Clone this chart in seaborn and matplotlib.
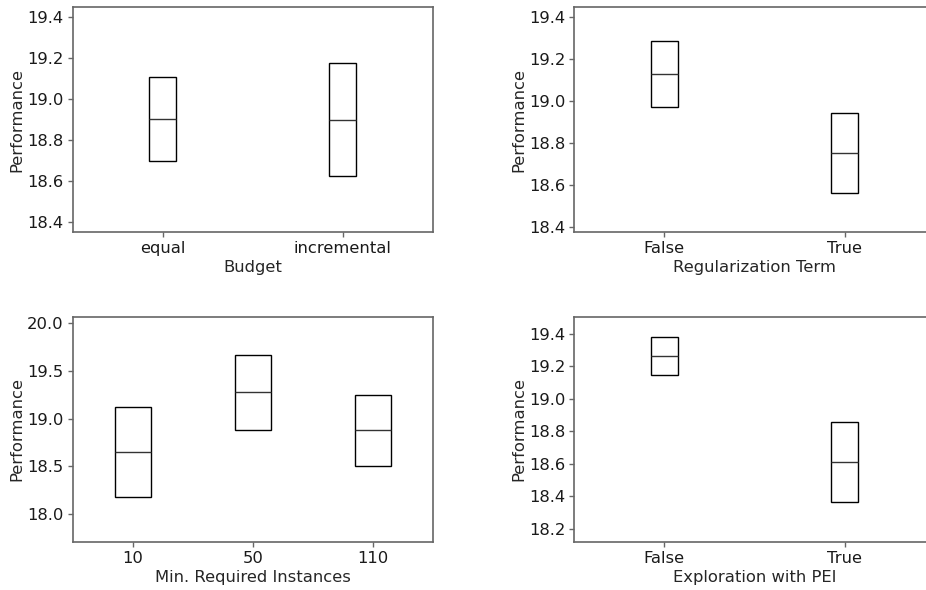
import matplotlib
matplotlib.use("Agg")
import matplotlib.pyplot as plt
import seaborn as sns
import pandas as pd

# Mean performance and spread (lower / centre / upper) per setting
budget_cats = ["equal", "incremental"]
budget_low = [18.698, 18.623]
budget_mid = [18.901, 18.898]
budget_high = [19.104, 19.173]

reg_cats = ["False", "True"]
reg_low = [18.970, 18.560]
reg_mid = [19.128, 18.750]
reg_high = [19.286, 18.940]

inst_cats = ["10", "50", "110"]
inst_low = [18.177, 18.880, 18.507]
inst_mid = [18.650, 19.273, 18.877]
inst_high = [19.123, 19.666, 19.248]

pei_cats = ["False", "True"]
pei_low = [19.146, 18.362]
pei_mid = [19.265, 18.609]
pei_high = [19.382, 18.855]

panels = [
    ("Budget", budget_cats, budget_low, budget_mid, budget_high,
     (18.348, 19.449), [18.4, 18.6, 18.8, 19.0, 19.2, 19.4], 0.15),
    ("Regularization Term", reg_cats, reg_low, reg_mid, reg_high,
     (18.373, 19.448), [18.4, 18.6, 18.8, 19.0, 19.2, 19.4], 0.15),
    ("Min. Required Instances", inst_cats, inst_low, inst_mid, inst_high,
     (17.708, 20.063), [18.0, 18.5, 19.0, 19.5, 20.0], 0.30),
    ("Exploration with PEI", pei_cats, pei_low, pei_mid, pei_high,
     (18.116, 19.505), [18.2, 18.4, 18.6, 18.8, 19.0, 19.2, 19.4], 0.15),
]


def box_frame(cats, low, mid, high):
    # five samples per group so that Q1 = low, median = mid, Q3 = high
    rows = []
    for c, lo, m, hi in zip(cats, low, mid, high):
        for v in (lo, lo, m, hi, hi):
            rows.append({"group": c, "Performance": v})
    return pd.DataFrame(rows)


sns.set_style("white")
plt.rcParams["font.family"] = ["DejaVu Sans"]
FS = 11.8
plt.rcParams["font.size"] = FS

W, H = 926, 590
fig = plt.figure(figsize=(W / 100, H / 100), dpi=100)

# axes rectangles in pixels: left, top, right, bottom
rects = [
    (72.7, 6.7, 433.0, 232.3),
    (574.3, 6.7, 934.7, 232.3),
    (72.7, 316.7, 433.0, 542.3),
    (574.3, 316.7, 934.7, 542.3),
]

for (xlabel, cats, low, mid, high, ylim, yticks, width), (l, t, r, b) in zip(panels, rects):
    ax = fig.add_axes([l / W, 1 - b / H, (r - l) / W, (b - t) / H])
    df = box_frame(cats, low, mid, high)
    sns.boxplot(
        data=df, x="group", y="Performance", order=cats, ax=ax,
        width=width, whis=0, showcaps=False, showfliers=False,
        boxprops=dict(facecolor="white", edgecolor="black", linewidth=1.0),
        medianprops=dict(color="#333333", linewidth=1.0),
        whiskerprops=dict(linewidth=0),
    )
    ax.set_xlim(-0.5, len(cats) - 0.5)
    ax.set_ylim(*ylim)
    ax.set_yticks(yticks)
    ax.set_yticklabels([f"{v:.1f}" for v in yticks])
    ax.set_xlabel(xlabel, fontsize=FS, labelpad=2.5)
    ax.set_ylabel("Performance", fontsize=FS, labelpad=2)
    for s in ax.spines.values():
        s.set_visible(True)
        s.set_color("#666666")
        s.set_linewidth(1.2)
    ax.tick_params(axis="both", which="major", length=3.5, width=1.0,
                   color="#666666", labelsize=FS, labelcolor="#1a1a1a",
                   left=True, bottom=True, pad=3)

fig.savefig("out.png", dpi=100)
